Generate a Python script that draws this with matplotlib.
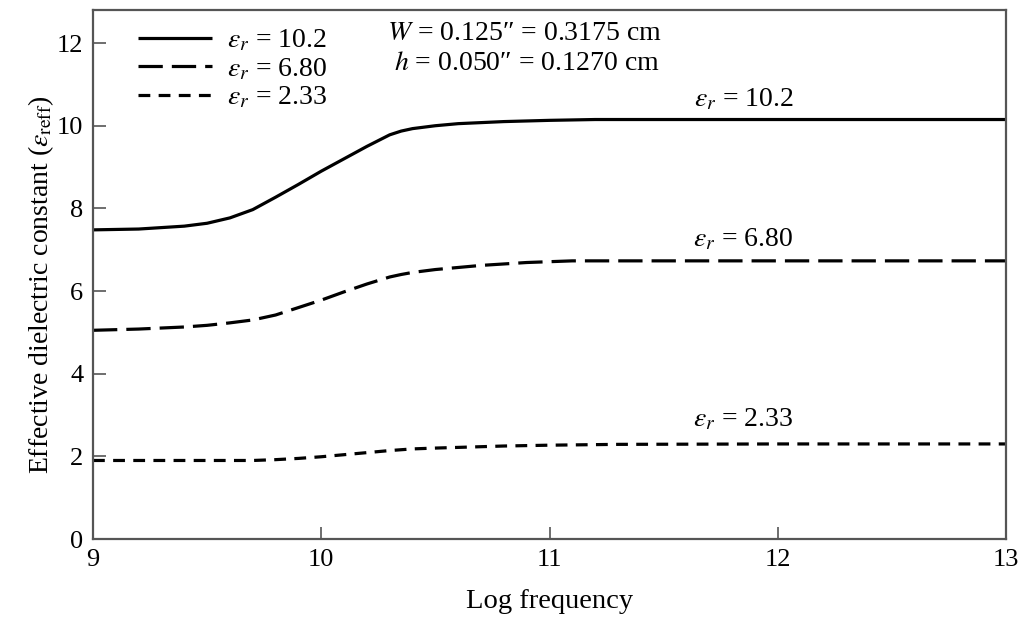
import matplotlib
matplotlib.use("Agg")
import matplotlib.pyplot as plt

plt.rcParams['font.family'] = ['Liberation Serif', 'DejaVu Serif']
plt.rcParams['mathtext.fontset'] = 'stix'
plt.rcParams['lines.scale_dashes'] = False

# Data (log frequency vs effective dielectric constant)
x_102 = [9.0, 9.2, 9.4, 9.5, 9.6, 9.7, 9.8, 9.9, 10.0, 10.1, 10.2, 10.3, 10.35, 10.4, 10.5, 10.6, 10.8, 11.0, 11.2, 12.0, 13.0]
y_102 = [7.48, 7.5, 7.57, 7.64, 7.77, 7.97, 8.27, 8.58, 8.9, 9.2, 9.5, 9.78, 9.87, 9.93, 10.0, 10.05, 10.1, 10.13, 10.15, 10.15, 10.15]

x_680 = [9.0, 9.2, 9.4, 9.5, 9.6, 9.7, 9.8, 9.9, 10.0, 10.1, 10.2, 10.3, 10.35, 10.4, 10.5, 10.7, 10.9, 11.1, 12.0, 13.0]
y_680 = [5.05, 5.08, 5.13, 5.17, 5.23, 5.3, 5.42, 5.6, 5.78, 5.98, 6.17, 6.34, 6.4, 6.45, 6.52, 6.62, 6.69, 6.73, 6.73, 6.73]

x_233 = [9.0, 9.5, 9.7, 9.8, 9.9, 10.0, 10.1, 10.2, 10.3, 10.4, 10.5, 10.8, 11.0, 11.3, 12.0, 13.0]
y_233 = [1.9, 1.9, 1.9, 1.92, 1.95, 1.99, 2.04, 2.09, 2.14, 2.18, 2.2, 2.25, 2.27, 2.29, 2.3, 2.3]

legend_labels = [r"$\varepsilon_r$ = 10.2", r"$\varepsilon_r$ = 6.80", r"$\varepsilon_r$ = 2.33"]
curve_labels = [r"$\varepsilon_r$ = 10.2", r"$\varepsilon_r$ = 6.80", r"$\varepsilon_r$ = 2.33"]
curve_label_x = [11.85, 11.85, 11.85]
curve_label_y = [10.63, 7.24, 2.9]
dim_lines = ["$W$ = 0.125\u2033 = 0.3175 cm", "$h$ = 0.050\u2033 = 0.1270 cm"]
x_ticks = [9, 10, 11, 12, 13]
y_ticks = [0, 2, 4, 6, 8, 10, 12]

FS = 20

fig = plt.figure(figsize=(10.26, 6.17), dpi=100)
ax = fig.add_axes([93/1026, 1-539/617, 913/1026, 529/617])

lw = 2.3
l1, = ax.plot(x_102, y_102, color='black', lw=lw, solid_capstyle='butt')
l2, = ax.plot(x_680, y_680, color='black', lw=lw, dashes=(17.5, 6.5), dash_capstyle='butt')
l3, = ax.plot(x_233, y_233, color='black', lw=lw, dashes=(8.5, 6), dash_capstyle='butt')

ax.set_xlim(9, 13)
ax.set_ylim(0, 12.8)
ax.set_xticks(x_ticks)
ax.set_yticks(y_ticks)
ax.tick_params(direction='in', length=9, width=1.2, color='#555555', labelsize=19, pad=7)
for s in ax.spines.values():
    s.set_color('#555555')
    s.set_linewidth(1.6)

leg = ax.legend([l1, l2, l3], legend_labels, loc='upper left', frameon=False,
                fontsize=FS, handlelength=2.66, handletextpad=0.54, labelspacing=0.1,
                bbox_to_anchor=(0.049, 0.966), borderaxespad=0, borderpad=0)

for t, xx, yy in zip(curve_labels, curve_label_x, curve_label_y):
    ax.text(xx, yy, t, fontsize=FS, ha='center', va='center')

ax.text(10.29, 12.22, dim_lines[0], fontsize=FS, ha='left', va='center')
ax.text(10.32, 11.5, dim_lines[1], fontsize=FS, ha='left', va='center')

ax.set_xlabel("Log frequency", fontsize=20.5)
ax.xaxis.set_label_coords(0.5, -0.095)
ax.set_ylabel(r"Effective dielectric constant ($\varepsilon_{\mathrm{reff}}$)", fontsize=FS)
ax.yaxis.set_label_coords(-0.041, 0.481)

fig.savefig("out.png", dpi=100)
